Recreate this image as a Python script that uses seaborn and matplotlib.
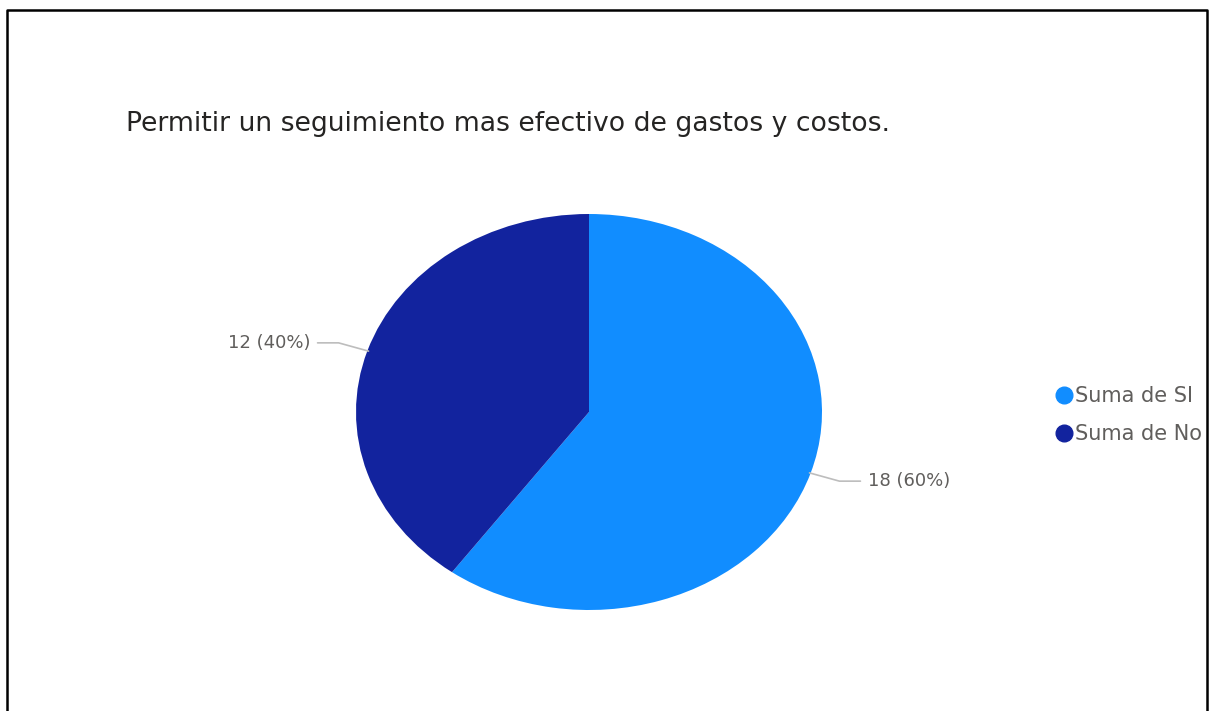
import numpy as np
import matplotlib
matplotlib.use("Agg")
import matplotlib.pyplot as plt
import seaborn as sns
from matplotlib.lines import Line2D
from matplotlib.patches import Rectangle

sns.set_theme(style="white")
plt.rcParams['font.family'] = ['DejaVu Sans']

title = "Permitir un seguimiento mas efectivo de gastos y costos."
categories = ["Suma de SI", "Suma de No"]
values = [18, 12]
colors = ["#118DFF", "#12239E"]

W, H = 1212, 711
fig = plt.figure(figsize=(W / 100, H / 100), dpi=100)
fig.patch.set_facecolor("white")

cx, cy, rx, ry = 589, 412, 233, 198
ax = fig.add_axes([(cx - rx) / W, (H - cy - ry) / H, 2 * rx / W, 2 * ry / H])
wedges, _ = ax.pie(values, colors=colors, startangle=90, counterclock=False,
                   radius=1.0, wedgeprops=dict(linewidth=0))
ax.set_aspect("auto")
ax.set_xlim(-1, 1)
ax.set_ylim(-1, 1)
ax.axis("off")

total = sum(values)
for w, v in zip(wedges, values):
    ang = np.deg2rad((w.theta1 + w.theta2) / 2)
    c, s = np.cos(ang), np.sin(ang)
    side = 1 if c > 0 else -1
    x0, y0 = c * 0.995, s * 0.995
    x1, y1 = c * 1.13, s * 1.13
    x2 = side * 1.165
    ax.plot([x0, x1, x2], [y0, y1, y1], color="#BDBDBD", lw=1.2, clip_on=False)
    ax.text(side * 1.197, y1, f"{v} ({v / total:.0%})", ha="left" if side > 0 else "right",
            va="center", fontsize=13, color="#605E5C", clip_on=False)

fig.text(126 / W, 1 - 124 / H, title, fontsize=19.2, color="#252423",
         ha="left", va="center")

handles = [Line2D([0], [0], marker="o", linestyle="none", markersize=12,
                  markerfacecolor=c, markeredgecolor=c) for c in colors]
leg = fig.legend(handles, categories, loc="center left",
                 bbox_to_anchor=(1057 / W, 1 - 415 / H), frameon=False,
                 handlelength=0.7, handletextpad=0.15, labelspacing=0.85,
                 fontsize=15, borderaxespad=0, borderpad=0)
for t in leg.get_texts():
    t.set_color("#605E5C")

# cover beyond right frame
fig.add_artist(Rectangle((1207 / W, 0), 1, 1, transform=fig.transFigure,
                         facecolor="white", edgecolor="none", zorder=20))
# frame (left, top, right)
fig.add_artist(Line2D([7 / W, 7 / W, 1207 / W, 1207 / W],
                      [0, 1 - 10 / H, 1 - 10 / H, 0], transform=fig.transFigure,
                      color="black", lw=1.8, zorder=21))

fig.savefig("out.png", dpi=100, facecolor="white")
